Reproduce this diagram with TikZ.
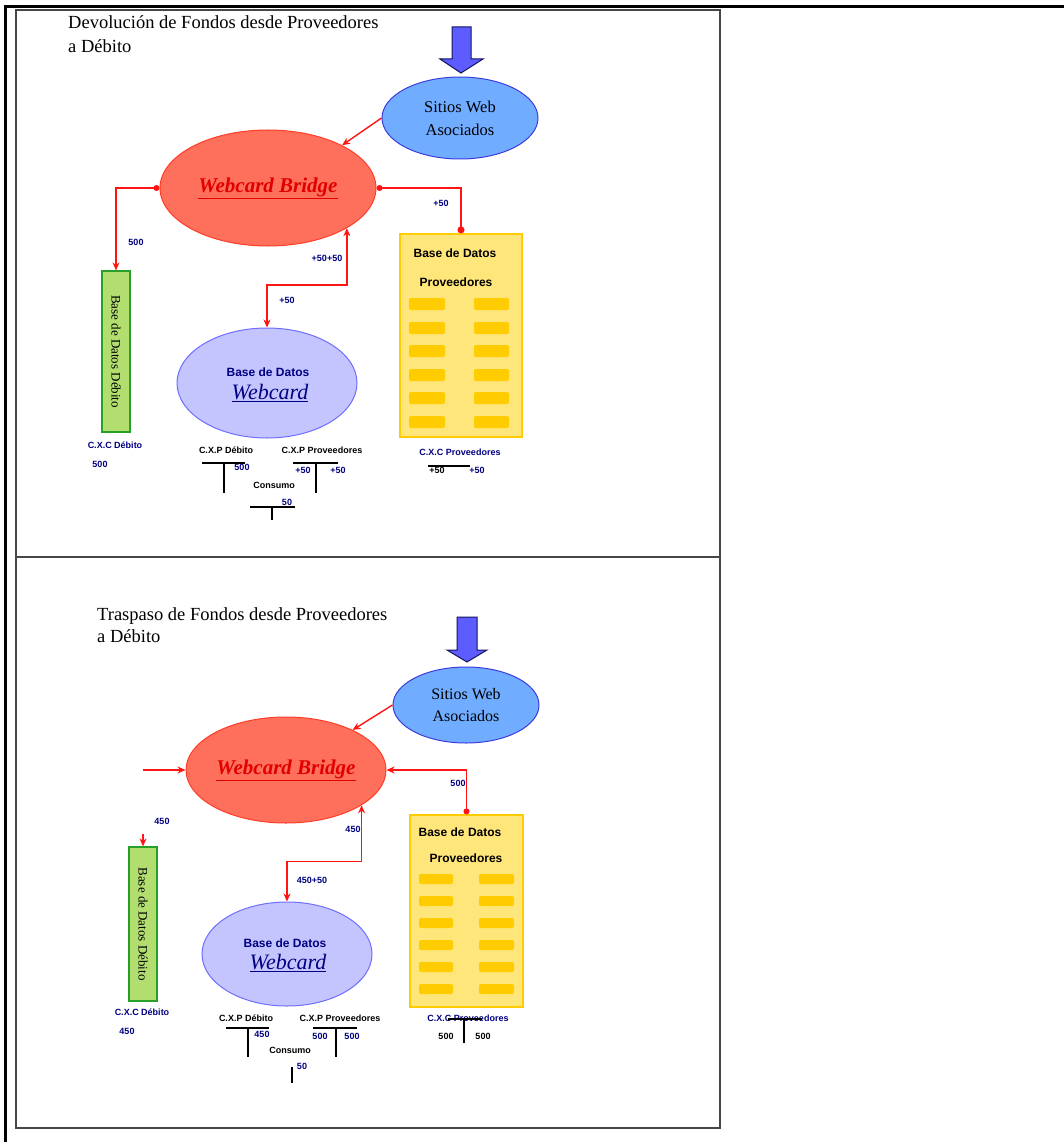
\documentclass[tikz,border=0pt]{standalone}
\usepackage{fontspec}
\setmainfont{Liberation Serif}
\newfontfamily\arialf{Liberation Sans}
\usetikzlibrary{shapes.geometric,arrows.meta}

\definecolor{navyc}{RGB}{0,0,128}
\definecolor{bridgefill}{RGB}{255,112,92}
\definecolor{bridgeline}{RGB}{255,60,40}
\definecolor{bridgetext}{RGB}{225,0,0}
\definecolor{sitiosfill}{RGB}{112,172,255}
\definecolor{sitiosline}{RGB}{60,60,220}
\definecolor{wdbfill}{RGB}{196,196,255}
\definecolor{wdbline}{RGB}{110,110,255}
\definecolor{greenfill}{RGB}{178,222,112}
\definecolor{greenline}{RGB}{40,160,40}
\definecolor{yellowfill}{RGB}{255,230,122}
\definecolor{yellowline}{RGB}{255,204,0}
\definecolor{barfill}{RGB}{255,204,0}
\definecolor{flowred}{RGB}{255,20,20}
\definecolor{arrowblue}{RGB}{92,92,255}
\definecolor{arrowline}{RGB}{20,20,90}
\definecolor{cellline}{RGB}{70,70,70}

\tikzset{
  ttl/.style={anchor=base west, inner sep=0, font=\fontsize{18.5}{23}\selectfont},
  bridgeshape/.style={ellipse, draw=bridgeline, fill=bridgefill, line width=1pt, inner sep=0,
    text=bridgetext, font=\fontsize{21}{24}\selectfont\bfseries\itshape},
  sitiosshape/.style={ellipse, draw=sitiosline, fill=sitiosfill, line width=1pt, inner sep=0,
    align=center, font=\fontsize{16.5}{23}\selectfont},
  wdbshape/.style={ellipse, draw=wdbline, fill=wdbfill, line width=1pt, inner sep=0},
  greenbox/.style={rectangle, draw=greenline, fill=greenfill, line width=1.2pt, inner sep=0},
  yellowbox/.style={rectangle, draw=yellowline, fill=yellowfill, line width=1.2pt, inner sep=0},
  bar/.style={fill=barfill, rounded corners=2pt},
  flow/.style={draw=flowred, line width=1.4pt},
  tipend/.style={-{Stealth[length=8pt,width=7pt]}},
  tipboth/.style={{Stealth[length=8pt,width=7pt]}-{Stealth[length=8pt,width=7pt]}},
  dottip/.style={{Circle[length=6pt]}-{Stealth[length=8pt,width=7pt]}},
  dotdot/.style={{Circle[length=6pt]}-{Circle[length=7pt]}},
  lbl/.style={inner sep=0, font=\arialf\bfseries\fontsize{9}{10}\selectfont, text=navyc},
  lblk/.style={lbl, text=black},
  dbtitle/.style={inner sep=0, font=\arialf\bfseries\fontsize{12}{14}\selectfont},
  wcword/.style={inner sep=0, text=navyc, font=\fontsize{22}{24}\selectfont\itshape},
  vtext/.style={inner sep=0, rotate=-90, font=\fontsize{13}{15}\selectfont},
  tacct/.style={line width=1.2pt, black},
  blockarrow/.style={fill=arrowblue, draw=arrowline, line width=1pt, line join=miter},
}

\begin{document}
\begin{tikzpicture}[x=1pt, y=-1pt]
\useasboundingbox (0,0) rectangle (1064,1142);

% table frame
\draw[line width=3pt] (5,1142) -- (5,7) -- (1064,7);
\draw[cellline, line width=1.6pt] (16,10) rectangle (720,1128);
\draw[cellline, line width=1.6pt] (16,557) -- (720,557);

% ================= upper cell =================
\node[ttl] (titleA1) at (68,29) {Devolución de Fondos desde Proveedores};
\node[ttl] (titleA2) at (68,53) {a Débito};

\path[blockarrow] (452,27) -- (471,27) -- (471,59) -- (483,59) -- (461,73)
  -- (440,59) -- (452,59) -- cycle;

\node[sitiosshape, minimum width=156pt, minimum height=82pt] (sitiosA) at (460,118)
  {Sitios Web\\Asociados};
\node[bridgeshape, minimum width=216pt, minimum height=116pt] (bridgeA) at (268,188)
  {\underline{Webcard Bridge}};
\node[wdbshape, minimum width=180pt, minimum height=110pt] (wdbA) at (267,383) {};
\node[dbtitle, text=navyc] (wdbA1) at (268,372) {Base de Datos};
\node[wcword] (wdbA2) at (270,393) {\underline{Webcard}};

\node[greenbox, minimum width=28pt, minimum height=161pt] (debA) at (116,351.5) {};
\node[vtext] (debAt) at (debA.center) {Base de Datos Débito};

\node[yellowbox, minimum width=122pt, minimum height=203pt] (provA) at (461,335.5) {};
\node[dbtitle] (provA1) at (455,253) {Base de Datos};
\node[dbtitle] (provA2) at (456,282) {Proveedores};
\foreach \r in {304,328,351,375,398,422} {
  \path[bar] (409,\r-6) rectangle (445,\r+6);
  \path[bar] (474,\r-6) rectangle (509,\r+6);
}

% flows
\draw[flow, tipend] (sitiosA.west) -- (bridgeA.30);
\draw[flow, dottip] (bridgeA.west) -| (debA.north);
\draw[flow, dotdot] (bridgeA.east) -| (provA.north);
\draw[flow, tipboth] (bridgeA.-27) -- ++(0,57) -| (wdbA.north);

\node[lbl] (nA1) at (136,242) {500};
\node[lbl] (nA2) at (441,203) {+50};
\node[lbl] (nA3) at (327,258) {+50+50};
\node[lbl] (nA4) at (287,300) {+50};

% accounts
\node[lbl] (cxcdA) at (115,445) {C.X.C Débito};
\node[lbl] (cxcdAv) at (100,464) {500};

\node[lblk] (cxpdA) at (226,450) {C.X.P Débito};
\draw[tacct] (202,463) -- (245,463) (224,463) -- (224,493);
\node[lbl] (cxpdAv) at (242,467) {500};

\node[lblk] (cxppA) at (322,450) {C.X.P Proveedores};
\draw[tacct] (293,463) -- (338,463) (316,463) -- (316,493);
\node[lbl] (cxppAl) at (303,470) {+50};
\node[lbl] (cxppAr) at (338,470) {+50};

\node[lblk] (consA) at (274,485) {Consumo};
\draw[tacct] (250,507) -- (295,507) (272,507) -- (272,520);
\node[lbl] (consAv) at (287,502) {50};

\node[lbl] (cxcpA) at (460,452) {C.X.C Proveedores};
\draw[tacct] (428,466) -- (470,466);
\node[lblk] (cxcpAl) at (437,470) {+50};
\node[lbl] (cxcpAr) at (477,470) {+50};

% ================= lower cell =================
\node[ttl] (titleB1) at (97,620) {Traspaso de Fondos desde Proveedores};
\node[ttl] (titleB2) at (97,642) {a Débito};

\path[blockarrow] (457,617) -- (477,617) -- (477,650) -- (487,650) -- (467,662)
  -- (447,650) -- (457,650) -- cycle;

\node[sitiosshape, minimum width=146pt, minimum height=76pt, font=\fontsize{16}{22}\selectfont]
  (sitiosB) at (466,705) {Sitios Web\\Asociados};
\node[bridgeshape, minimum width=200pt, minimum height=106pt] (bridgeB) at (286,770)
  {\underline{Webcard Bridge}};
\node[wdbshape, minimum width=170pt, minimum height=104pt] (wdbB) at (287,954) {};
\node[dbtitle, text=navyc] (wdbB1) at (285,943) {Base de Datos};
\node[wcword] (wdbB2) at (288,963) {\underline{Webcard}};

\node[greenbox, minimum width=28pt, minimum height=154pt] (debB) at (143,924) {};
\node[vtext] (debBt) at (debB.center) {Base de Datos Débito};

\node[yellowbox, minimum width=113pt, minimum height=192pt] (provB) at (466.5,911) {};
\node[dbtitle] (provB1) at (460,832) {Base de Datos};
\node[dbtitle] (provB2) at (466,858) {Proveedores};
\foreach \r in {879,901,923,945,967,989} {
  \path[bar] (419,\r-5) rectangle (453,\r+5);
  \path[bar] (479,\r-5) rectangle (514,\r+5);
}

% flows
\coordinate (inB) at (143,770);
\coordinate (tipB) at (143,834);
\draw[flow, tipend] (sitiosB.west) -- (bridgeB.31);
\draw[flow, tipend] (inB) -- (bridgeB.west);
\draw[flow, tipend] (tipB) -- (debB.north);
\draw[flow, dottip] (provB.north) |- (bridgeB.east);
\draw[flow, tipboth] (bridgeB.-25) -- ++(0,56) -| (wdbB.north);

\node[lbl] (nB1) at (162,821) {450};
\node[lbl] (nB2) at (458,783) {500};
\node[lbl] (nB3) at (353,829) {450};
\node[lbl] (nB4) at (312,880) {450+50};

% accounts
\node[lbl] (cxcdB) at (142,1012) {C.X.C Débito};
\node[lbl] (cxcdBv) at (127,1031) {450};

\node[lblk] (cxpdB) at (246,1018) {C.X.P Débito};
\draw[tacct] (226,1028) -- (269,1028) (248,1028) -- (248,1057);
\node[lbl] (cxpdBv) at (262,1034) {450};

\node[lblk] (cxppB) at (340,1018) {C.X.P Proveedores};
\draw[tacct] (313,1028) -- (357,1028) (336,1028) -- (336,1057);
\node[lbl] (cxppBl) at (320,1036) {500};
\node[lbl] (cxppBr) at (352,1036) {500};

\node[lblk] (consB) at (290,1050) {Consumo};
\draw[tacct] (292,1067) -- (292,1083);
\node[lbl] (consBv) at (302,1066) {50};

\node[lbl] (cxcpB) at (468,1018) {C.X.C Proveedores};
\draw[tacct] (448,1019) -- (482,1019) (464,1019) -- (464,1043);
\node[lblk] (cxcpBl) at (446,1036) {500};
\node[lblk] (cxcpBr) at (483,1036) {500};

\end{tikzpicture}
\end{document}
